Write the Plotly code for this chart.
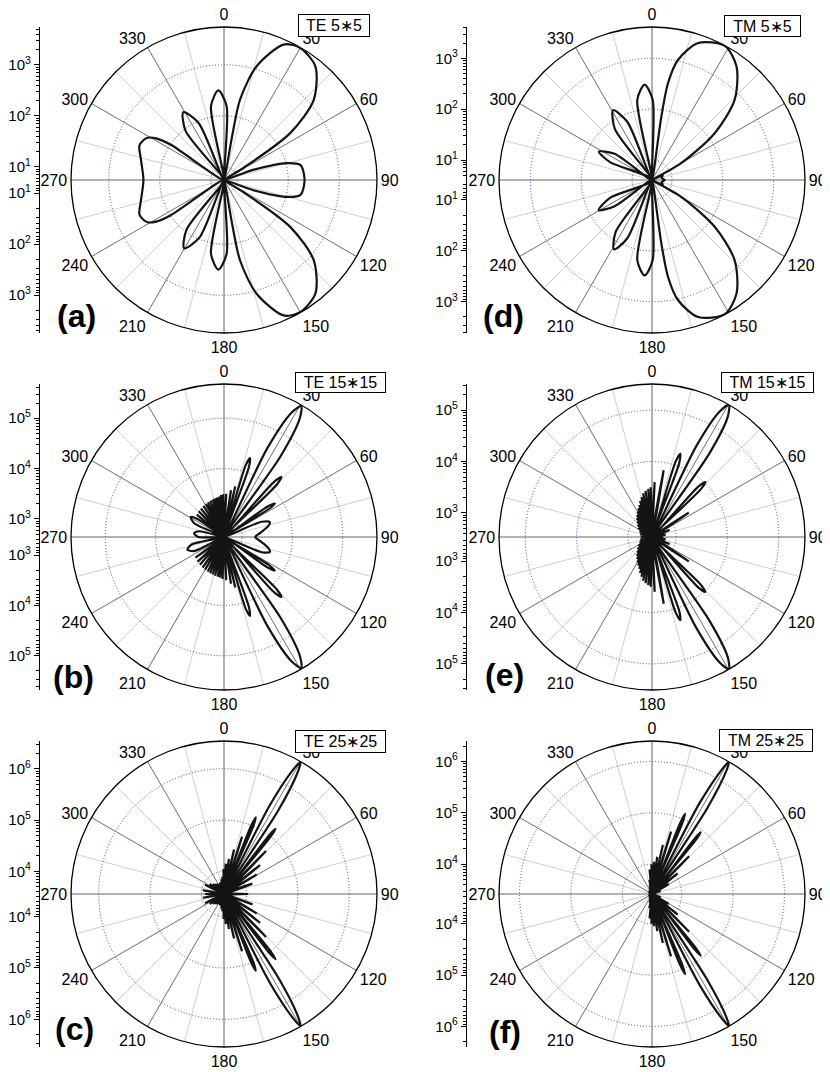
import math
import plotly.graph_objects as go

# The page body has an 8 px margin, so the figure is drawn 8 px smaller and
# every reference pixel position is shifted by OFF.
OFF = 8
W, H = 830 - OFF, 1072 - OFF

# ---------------- data ----------------
# (a) TE 5*5
A0 = 5.5
TE5_FLOOR, TE5_TOP = A0, 5.5e3
TE5_DECADES = [1e1, 1e2, 1e3]
TE5_THETA = [344, 350, 356.4, 2, 6, 10.5, 11.3, 16, 23.7, 29.7, 38.8, 48.2, 54.7, 58, 62,
             71, 75, 79, 90, 101, 105, 109, 118,
             122, 125.3, 131.8, 141.2, 150.3, 156.3, 164, 168.7, 169.5, 174,
             178, 183.6, 190, 195, 203, 210.3, 217, 229.5,
             236.5, 238.5, 241, 244, 248, 256, 270, 284, 292, 296, 299, 301.5, 303.5, 309.5,
             322, 329, 336, 344]
TE5_R = [A0, 162, 316, 155, A0, 40, 224, 1150, 4370, 5400, 3980, 1260, 214, 16, A0,
         23, 105, 186, 209, 186, 105, 23, A0,
         16, 214, 1260, 3980, 5400, 4370, 1150, 224, 40, A0,
         155, 316, 162, A0, 92, 195, 92, A0,
         100, 200, 282, 320, 339, 263, 209, 263, 339, 320, 282, 200, 100, A0,
         92, 195, 92, A0]

# (d) TM 5*5
D0 = 4.05
TM5_FLOOR, TM5_TOP = D0, 4.13e3
TM5_DECADES = [1e1, 1e2, 1e3]
TM5_THETA = [344, 349.6, 355.6, 0.5, 4, 8.4, 9.4, 12.2, 18.6, 28.5, 36.7, 45.9, 53.3, 60, 63,
             66, 78, 90, 102, 114, 117,
             120, 126.7, 134.1, 143.3, 151.5, 161.4, 167.8, 170.6, 171.6, 176,
             179.5, 184.4, 190.4, 195, 203, 208.7, 215, 222,
             235, 240.5, 247, 267, 293, 298.1, 305, 311,
             324, 330.9, 337, 344]
TM5_R = [D0, 162, 309, 151, D0, 74, 347, 1050, 2820, 4070, 2450, 741, 138, 18.6, D0,
         6.9, 6.3, 7.2, 6.3, 6.9, D0,
         18.6, 138, 741, 2450, 4070, 2820, 1050, 347, 74, D0,
         151, 309, 162, D0, 71, 145, 71, D0,
         32, 65, 32, D0, 32, 62, 32, D0,
         71, 151, 71, D0]

# (b) TE 15*15
B0 = 437
TE15_FLOOR, TE15_TOP = B0, 4.79e5
TE15_DECADES = [1e3, 1e4, 1e5]
TE15_THETA = [359, 3, 5.8, 8.5, 10.5, 12.5, 15.3, 16.8, 18.2, 19.6, 24.5,
              26, 28.5, 30.5, 32.5, 35, 37, 42.2, 43.7, 45.2, 50, 55, 56.5, 58, 63.5,
              68, 72, 76, 83, 90, 97, 104, 108, 112, 116.5,
              122, 123.5, 125, 130, 134.8, 136.3, 137.8, 143,
              145, 147.5, 149.5, 151.5, 154, 155.5, 160.4, 161.8, 163.2, 164.7,
              167.5, 169.5, 171.5, 174.2, 177, 180,
              182, 183.8, 185.5, 187.3, 189, 191, 193, 195, 197, 199, 201, 203, 205, 207.5,
              210, 212.5, 215, 218, 221, 224, 227, 230.5, 234,
              239, 245, 251, 257, 263, 270, 277, 283, 289, 295, 301, 304,
              306, 309.5, 313, 315.5, 318, 321, 324, 326.5, 329, 331.5, 333.5, 335.5, 337.5,
              339.5, 341.5, 343.5, 345.5, 347, 348.5, 350, 351.5, 353, 354.5, 356, 357.5, 359]
TE15_R = [B0, 3160, B0, 3800, B0, 4680, B0, 13200, 19500, 13200, B0,
          39800, 282000, 457000, 282000, 39800, B0, 13200, 19500, 13200, B0, 5010, 7080, 5010, B0,
          2820, 3980, 3550, 2400, 1820, 2400, 3550, 3980, 2820, B0,
          5010, 7080, 5010, B0, 13200, 19500, 13200, B0,
          39800, 282000, 457000, 282000, 39800, B0, 13200, 19500, 13200, B0,
          4680, B0, 3800, B0, 3160, B0,
          3000, B0, 2820, B0, 2750, B0, 2690, B0, 2630, B0, 2570, B0, 2510, B0,
          2450, B0, 2400, B0, 2340, B0, 2290, B0, 2190, B0,
          2000, 2570, 2000, B0, 1410, 1740, 1410, B0, 2000, 2570, 2000, B0,
          2190, B0, 2290, B0, 2340, B0, 2400, B0, 2450, B0, 2510, B0, 2570,
          B0, 2630, B0, 2690, B0, 2750, B0, 2820, B0, 3000, B0, 3100, B0]

# (e) TM 15*15
E0 = 339
TM15_FLOOR, TM15_TOP = E0, 3.24e5
TM15_DECADES = [1e3, 1e4, 1e5]
TM15_THETA = [359.5, 2.8, 6.5, 9.9, 14, 17.4, 18.8, 20.2, 24.5,
              26, 28.3, 30.2, 32.2, 34.5, 36.5, 42.6, 44.1, 45.6, 50.5, 56.4, 62,
              68, 74, 80, 85, 90, 95, 100, 106, 112, 118, 123.5, 129.5,
              134.4, 135.9, 137.4, 143.5, 145.5, 147.8, 149.8, 151.7, 154, 155.5,
              159.8, 161.2, 162.6, 166, 170, 173.5, 177.2, 180,
              181.5, 183, 184.5, 186.3, 188, 189.8, 191.5, 193.3, 195, 196.8, 198.5, 200.3,
              202, 204, 206, 208, 210, 212.3, 214.5, 216.8, 219, 221.5, 224, 227, 230, 233.5,
              237, 241, 245, 251, 257, 263.5, 270, 276.5, 283, 289, 295, 299, 303, 306.5,
              310, 313, 316, 318.5, 321, 323.3, 325.5, 327.8, 330, 332, 334, 336, 338,
              339.8, 341.5, 343.3, 345, 346.8, 348.5, 350.3, 352, 353.8, 355.5, 357, 358.5]
TM15_R = [E0, 3980, E0, 7080, E0, 11700, 17400, 11700, E0,
          31600, 200000, 320000, 200000, 31600, E0, 7410, 10500, 7410, E0, 2450, E0,
          794, E0, 631, E0, 562, E0, 631, E0, 794, E0, 2450, E0,
          7410, 10500, 7410, E0, 31600, 200000, 320000, 200000, 31600, E0,
          11700, 17400, 11700, E0, 7080, E0, 3980, E0,
          3160, E0, 2950, E0, 2750, E0, 2510, E0, 2140, E0, 1860, E0,
          1580, E0, 1410, E0, 1260, E0, 1120, E0, 1000, E0, 891, E0, 794, E0,
          708, E0, 631, E0, 589, E0, 562, E0, 589, E0, 631, E0, 708, E0,
          794, E0, 891, E0, 1000, E0, 1120, E0, 1260, E0, 1410, E0, 1580,
          E0, 1860, E0, 2140, E0, 2510, E0, 2750, E0, 2950, E0, 3160, E0]

# (c) TE 25*25
C0 = 3630
TE25_FLOOR, TE25_TOP = C0, 3.47e6
TE25_DECADES = [1e4, 1e5, 1e6]
TE25_THETA = [347.3, 349.6, 352, 354.3, 356.6, 358.9, 1.2, 3.4, 5.7, 8, 10.3, 12.7, 15.1,
              17.5, 20, 21.7, 22.5, 23.3, 26.5,
              27.3, 29, 30.1, 31.3, 33, 34.5, 37.5, 38.3, 39.1, 41.3, 44.4, 47.8,
              51.3, 55, 59.3, 64.5, 70, 80, 90, 100, 110, 115.5, 120.7, 125, 128.7, 132.2,
              135.6, 138.7, 140.9, 141.7, 142.5, 145.5,
              147, 148.7, 149.9, 151, 152.7, 153.5, 156.7, 157.5, 158.3, 160,
              162.5, 164.9, 167.3, 169.7, 172, 174.3, 176.6, 178.8, 181.1, 183.4,
              185.7, 188, 190.4, 192.7, 195.1, 197.5, 199.9, 202.3, 204.8, 207.4,
              210, 212.7, 215.5, 218.4, 221.3, 224.5, 227.7, 231.4, 235.1, 239.6,
              244.2, 252, 260, 265, 270, 275, 280, 288, 295.8, 300.3, 304.9, 308.6,
              312.3, 315.5, 318.7, 321.6, 324.5, 327.3, 330, 332.6, 335.2, 337.7,
              340.1, 342.5, 344.9, 347.3]
TE25_R = [C0, 7080, C0, 7940, C0, 11200, C0, 14100, C0, 17800, C0, 28200, C0,
          53700, C0, 100000, 151000, 100000, C0,
          316000, 2.0e6, 3.39e6, 2.0e6, 316000, C0, 100000, 151000, 100000, C0, 53700, C0,
          28800, C0, 20000, C0, 14100, C0, 10700, C0, 14100, C0, 20000, C0, 28800, C0,
          53700, C0, 100000, 151000, 100000, C0,
          316000, 2.0e6, 3.39e6, 2.0e6, 316000, C0, 100000, 151000, 100000, C0,
          53700, C0, 28200, C0, 17800, C0, 14100, C0, 11200, C0,
          7940, C0, 7080, C0, 6310, C0, 6310, C0, 6030, C0,
          6030, C0, 6310, C0, 6610, C0, 7080, C0, 7940, C0,
          9330, C0, 9550, C0, 8510, C0, 9550, C0, 9330, C0, 7940, C0,
          7080, C0, 6610, C0, 6310, C0, 6030, C0, 6030, C0,
          6310, C0, 6310, C0]

# (f) TM 25*25
F0 = 2630
TM25_FLOOR, TM25_TOP = F0, 2.51e6
TM25_DECADES = [1e4, 1e5, 1e6]
TM25_THETA = [347.3, 349.6, 352, 354.3, 356.6, 358.9, 1.2, 3.4, 5.7, 8, 10.3, 12.5, 14.8,
              17, 19.7, 21.6, 22.4, 23.2, 26.5,
              27.6, 29.3, 30.2, 31.2, 32.8, 34.5, 37.6, 38.3, 39, 41.3, 44.5, 47.8,
              51.3, 55, 59.3, 64.5, 70, 80, 90, 100, 110, 115.5, 120.7, 125, 128.7, 132.2,
              135.5, 138.7, 141, 141.7, 142.4, 145.5,
              147.2, 148.8, 149.8, 150.7, 152.4, 153.5, 156.8, 157.6, 158.4, 160.3,
              163, 165.2, 167.5, 169.7, 172, 174.3, 176.6, 178.8, 181.1, 183.4,
              185.7, 188, 190.4, 192.7, 195.1, 197.5, 200, 205, 210, 217.5, 225, 232.5,
              240, 247.5, 255, 262.5, 270, 277.5, 285, 292.5, 300, 307.5, 315, 322.5,
              330, 335, 340, 342.5, 344.9, 347.3]
TM25_R = [F0, 5010, F0, 7940, F0, 10000, F0, 11200, F0, 14100, F0, 25100, F0,
          49000, F0, 79400, 129000, 79400, F0,
          251000, 1.58e6, 2.5e6, 1.58e6, 251000, F0, 63100, 89100, 63100, F0, 28200, F0,
          11500, F0, 6310, F0, 3980, F0, 3160, F0, 3980, F0, 6310, F0, 11500, F0,
          28200, F0, 63100, 89100, 63100, F0,
          251000, 1.58e6, 2.5e6, 1.58e6, 251000, F0, 79400, 129000, 79400, F0,
          49000, F0, 25100, F0, 14100, F0, 11200, F0, 10000, F0,
          7940, F0, 5010, F0, 3980, F0, 3550, F0, 3310, F0, 3160, F0,
          3160, F0, 3020, F0, 2950, F0, 3020, F0, 3160, F0, 3160, F0,
          3310, F0, 3550, F0, 3980, F0]

ANGLE_TICKS = list(range(0, 360, 30))
ANGLE_LABELS = [str(a) for a in ANGLE_TICKS]

PANELS = [
    dict(label="TE 5\u22175", letter="(a)", theta=TE5_THETA, r=TE5_R, floor=TE5_FLOOR, top=TE5_TOP,
         dec=TE5_DECADES, col=0, row=0, box=(298, 14, 370, 37), let=(76, 316)),
    dict(label="TE 15\u221715", letter="(b)", theta=TE15_THETA, r=TE15_R, floor=TE15_FLOOR, top=TE15_TOP,
         dec=TE15_DECADES, col=0, row=1, box=(295, 372, 386, 393), let=(73, 677)),
    dict(label="TE 25\u221725", letter="(c)", theta=TE25_THETA, r=TE25_R, floor=TE25_FLOOR, top=TE25_TOP,
         dec=TE25_DECADES, col=0, row=2, box=(295, 730, 386, 753), let=(74, 1029)),
    dict(label="TM 5\u22175", letter="(d)", theta=TM5_THETA, r=TM5_R, floor=TM5_FLOOR, top=TM5_TOP,
         dec=TM5_DECADES, col=1, row=0, box=(724, 15, 801, 37), let=(503, 316)),
    dict(label="TM 15\u221715", letter="(e)", theta=TM15_THETA, r=TM15_R, floor=TM15_FLOOR, top=TM15_TOP,
         dec=TM15_DECADES, col=1, row=1, box=(721, 372, 814, 393), let=(504, 675)),
    dict(label="TM 25\u221725", letter="(f)", theta=TM25_THETA, r=TM25_R, floor=TM25_FLOOR, top=TM25_TOP,
         dec=TM25_DECADES, col=1, row=2, box=(719, 729, 813, 752), let=(505, 1032)),
]

# ---------------- layout geometry (reference pixels) ----------------
CX = [224, 652]
CY = [180, 537, 894]
RAD = 153
AXIS_X = [40, 467]
FONT = "Liberation Sans, Arial, Helvetica, sans-serif"


def px(x):
    return (x - OFF) / W


def py(y):
    return 1 - (y - OFF) / H


fig = go.Figure()
layout = dict(width=W, height=H, margin=dict(l=0, r=0, t=0, b=0, pad=0),
              paper_bgcolor="white", plot_bgcolor="rgba(0,0,0,0)", showlegend=False,
              font=dict(family=FONT, color="black"))
annotations = []

for i, p in enumerate(PANELS):
    cx, cy = CX[p["col"]], CY[p["row"]]
    lo, hi = math.log10(p["floor"]), math.log10(p["top"])
    dom = dict(x=[px(cx - RAD), px(cx + RAD)], y=[py(cy + RAD), py(cy - RAD)])
    nb, nt = 2 * i + 1, 2 * i + 2
    kb = "polar" if nb == 1 else f"polar{nb}"
    kt = f"polar{nt}"
    layout[kb] = dict(
        domain=dom, bgcolor="white",
        angularaxis=dict(rotation=90, direction="clockwise", tickmode="linear", tick0=0, dtick=15,
                         showticklabels=False, ticks="", showline=False,
                         gridcolor="#d0d0d0", gridwidth=1),
        radialaxis=dict(type="log", range=[lo, hi], tickmode="array", tickvals=p["dec"],
                        showticklabels=False, ticks="", showline=False,
                        gridcolor="#4343cc", griddash="1px,2px", gridwidth=1.1),
    )
    layout[kt] = dict(
        domain=dom, bgcolor="rgba(0,0,0,0)",
        angularaxis=dict(rotation=90, direction="clockwise", tickmode="array",
                         tickvals=ANGLE_TICKS, ticktext=ANGLE_LABELS, ticks="",
                         showline=True, linecolor="black", linewidth=1.3,
                         gridcolor="#7c7c7c", gridwidth=1,
                         tickfont=dict(size=16, color="black", family=FONT)),
        radialaxis=dict(type="log", range=[lo, hi], showgrid=False, showticklabels=False,
                        ticks="", showline=False),
    )
    # placeholder so that the grid-only subplot is drawn
    fig.add_trace(go.Scatterpolar(r=[], theta=[], mode="lines", subplot=kb,
                                  hoverinfo="skip", showlegend=False))
    fig.add_trace(go.Scatterpolar(r=p["r"], theta=p["theta"], mode="lines",
                                  line=dict(color="#141414", width=2.2, shape="spline", smoothing=0.8),
                                  subplot=kt, hoverinfo="skip", showlegend=False))

    # mirrored log scale on the left
    minor_vals = []
    for e in range(int(math.floor(lo)), int(math.ceil(hi)) + 1):
        for k in range(2, 10):
            v = k * 10 ** e
            if p["floor"] <= v <= p["top"]:
                minor_vals.append(v)
    ticktext = [f"10<sup>{int(round(math.log10(v)))}</sup>" for v in p["dec"]]
    ax_x = AXIS_X[p["col"]]
    for j, (ydom, yrange) in enumerate([
        ([py(cy), py(cy - RAD)], [lo, hi]),
        ([py(cy + RAD), py(cy)], [hi, lo]),
    ]):
        n = 2 * i + 1 + j
        xk = "xaxis" if n == 1 else f"xaxis{n}"
        yk = "yaxis" if n == 1 else f"yaxis{n}"
        xa = "x" if n == 1 else f"x{n}"
        ya = "y" if n == 1 else f"y{n}"
        layout[xk] = dict(domain=[px(ax_x), px(ax_x + 8)], anchor=ya, visible=False,
                          range=[0, 1], fixedrange=True)
        layout[yk] = dict(domain=ydom, anchor=xa, type="log", range=yrange, side="left",
                          showline=True, linecolor="black", linewidth=1.2,
                          ticks="outside", ticklen=5, tickwidth=1, tickcolor="black",
                          tickmode="array", tickvals=p["dec"], ticktext=ticktext,
                          tickfont=dict(size=15, color="black", family=FONT),
                          showgrid=False, zeroline=False, fixedrange=True,
                          minor=dict(tickmode="array", tickvals=minor_vals, ticks="outside",
                                     ticklen=3, tickwidth=1, tickcolor="black", showgrid=False))
        fig.add_trace(go.Scatter(x=[], y=[], xaxis=xa, yaxis=ya, mode="lines",
                                 hoverinfo="skip", showlegend=False))

    x0, y0, x1, y1 = p["box"]
    annotations.append(dict(text=p["label"], xref="paper", yref="paper",
                            x=px((x0 + x1) / 2), y=py((y0 + y1) / 2),
                            xanchor="center", yanchor="middle", showarrow=False,
                            width=x1 - x0 - 2, height=y1 - y0 - 2, borderpad=0,
                            bgcolor="white", bordercolor="black", borderwidth=1,
                            font=dict(size=16, color="black", family=FONT)))
    lx, ly = p["let"]
    annotations.append(dict(text=f"<b>{p['letter']}</b>", xref="paper", yref="paper",
                            x=px(lx), y=py(ly), xanchor="center", yanchor="middle",
                            showarrow=False, font=dict(size=32, color="black", family=FONT)))

layout["annotations"] = annotations
fig.update_layout(**layout)
fig.write_html("out.html")
